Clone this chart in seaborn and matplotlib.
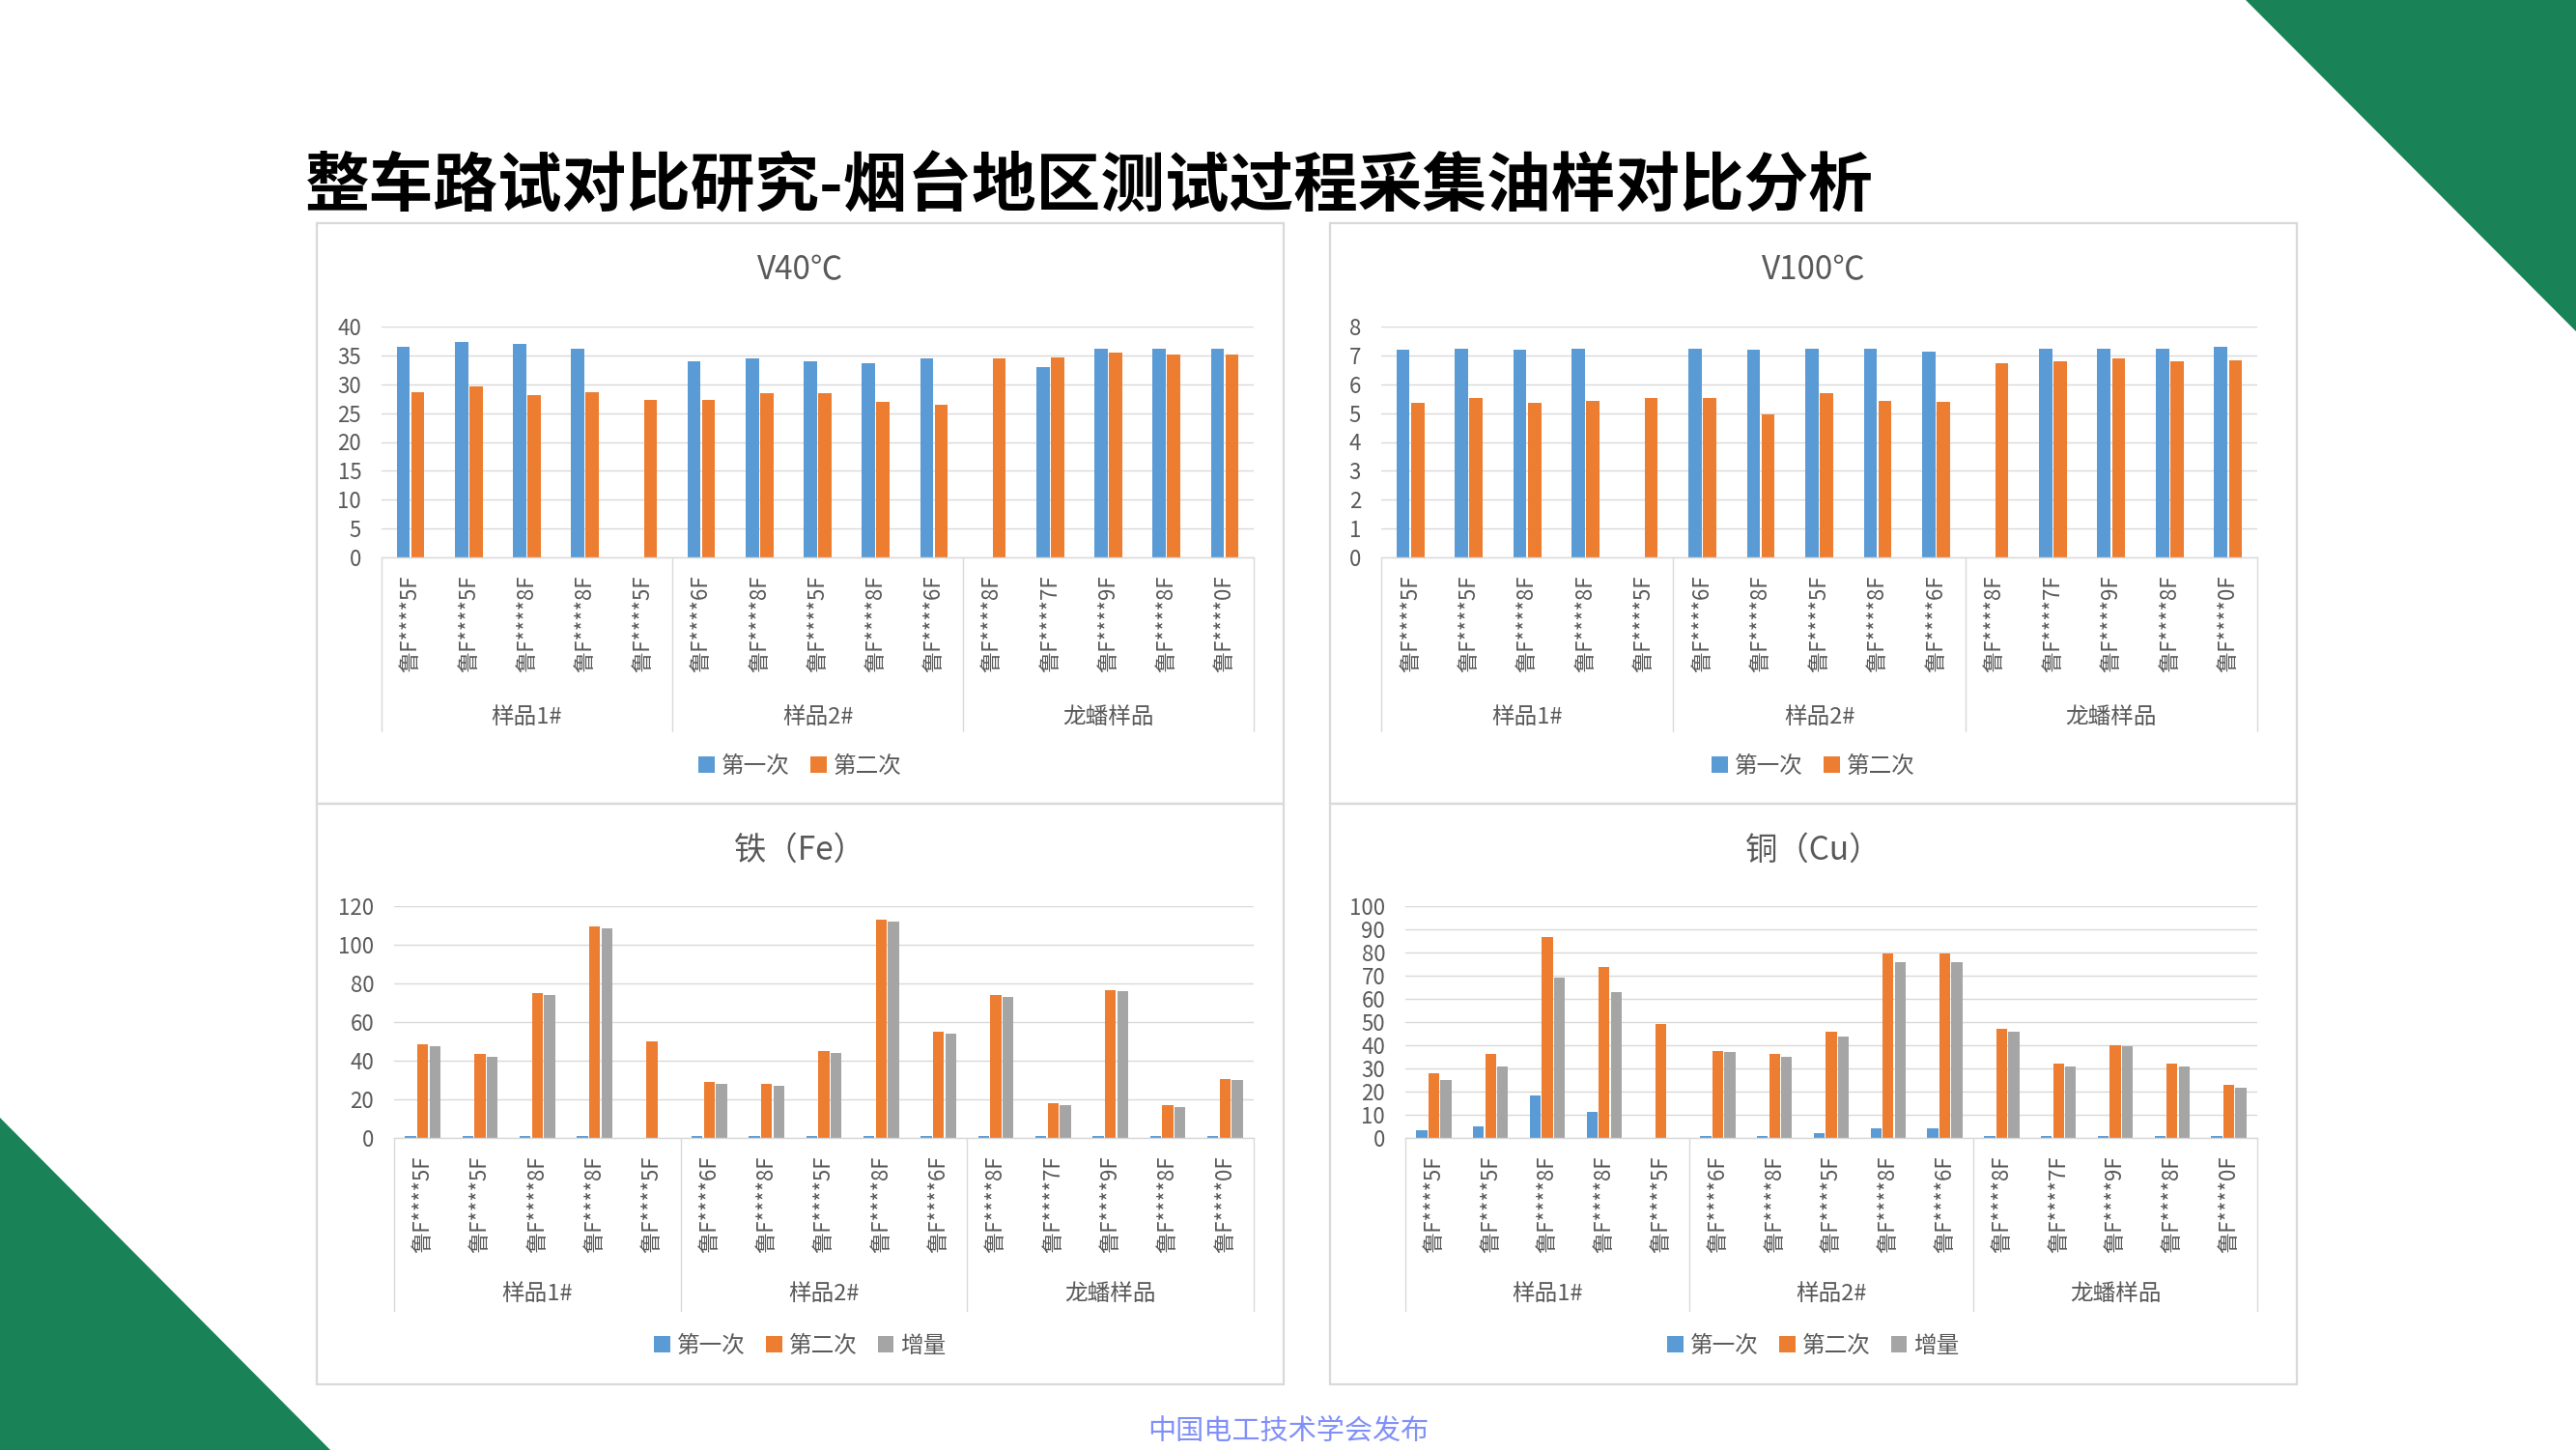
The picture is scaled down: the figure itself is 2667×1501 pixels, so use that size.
import numpy as np
import pandas as pd
import matplotlib
matplotlib.use("Agg")
import matplotlib.pyplot as plt
import seaborn as sns
from matplotlib.patches import Polygon, Rectangle
import matplotlib.transforms as mtransforms

sns.set_style("white")
plt.rcParams["font.family"] = ["Noto Sans CJK SC", "DejaVu Sans"]

# ---------------- data ----------------
plates = ["鲁F****5F", "鲁F****5F", "鲁F****8F", "鲁F****8F", "鲁F****5F",
          "鲁F****6F", "鲁F****8F", "鲁F****5F", "鲁F****8F", "鲁F****6F",
          "鲁F****8F", "鲁F****7F", "鲁F****9F", "鲁F****8F", "鲁F****0F"]
groups = ["样品1#"] * 5 + ["样品2#"] * 5 + ["龙蟠样品"] * 5
group_names = ["样品1#", "样品2#", "龙蟠样品"]
series2 = ["第一次", "第二次"]
series3 = ["第一次", "第二次", "增量"]
nan = np.nan

v40_first = [36.5, 37.4, 37.0, 36.1, nan, 33.9, 34.4, 33.9, 33.7, 34.4, nan, 32.9, 36.1, 36.1, 36.1]
v40_second = [28.7, 29.7, 28.2, 28.7, 27.3, 27.3, 28.5, 28.5, 27.0, 26.5, 34.5, 34.7, 35.4, 35.2, 35.2]

v100_first = [7.18, 7.24, 7.18, 7.22, nan, 7.22, 7.18, 7.24, 7.22, 7.14, nan, 7.22, 7.24, 7.24, 7.31]
v100_second = [5.36, 5.53, 5.36, 5.43, 5.53, 5.53, 4.96, 5.70, 5.43, 5.40, 6.74, 6.80, 6.88, 6.80, 6.84]

fe_first = [1.0, 1.0, 1.0, 1.0, nan, 1.0, 1.0, 1.0, 1.0, 1.0, 1.0, 1.0, 1.0, 1.0, 1.0]
fe_second = [48.3, 43.3, 74.8, 109.6, 49.8, 29.0, 28.1, 44.8, 113.1, 54.8, 73.8, 18.1, 76.3, 17.1, 30.6]
fe_increase = [47.3, 42.1, 73.8, 108.5, nan, 28.1, 27.1, 44.2, 112.1, 53.8, 72.9, 17.1, 76.0, 16.2, 30.2]

cu_first = [3.4, 5.0, 18.4, 11.2, nan, 0.8, 0.8, 2.1, 4.2, 4.2, 0.8, 0.8, 0.8, 0.8, 0.8]
cu_second = [28.0, 36.1, 86.7, 73.7, 49.0, 37.7, 36.1, 46.0, 79.6, 79.6, 47.0, 32.2, 40.2, 32.2, 23.1]
cu_increase = [25.2, 30.9, 69.2, 62.8, nan, 36.9, 35.1, 43.9, 75.8, 75.8, 46.0, 30.9, 39.4, 30.9, 21.8]

# ---------------- styling ----------------
W, H = 2667, 1501
BLUE, ORANGE, GRAY = "#5B9BD5", "#ED7D31", "#A5A5A5"
GREEN = "#198256"
LINE = "#D9D9D9"
TXT = "#595959"


def fx(x):
    return x / W


def fy(y):
    return 1 - y / H


fig = plt.figure(figsize=(W / 100, H / 100), dpi=100)
fig.patch.set_facecolor("white")

# decorative triangles
fig.add_artist(Polygon([(fx(2325), fy(0)), (fx(2667), fy(0)), (fx(2667), fy(343))],
                       closed=True, transform=fig.transFigure, facecolor=GREEN, edgecolor="none"))
fig.add_artist(Polygon([(fx(0), fy(1157)), (fx(342), fy(1501)), (fx(0), fy(1501))],
                       closed=True, transform=fig.transFigure, facecolor=GREEN, edgecolor="none"))

fig.text(fx(316), fy(194), "整车路试对比研究-烟台地区测试过程采集油样对比分析",
         fontsize=48, fontweight="bold", color="black", ha="left", va="center")
fig.text(fx(1334), fy(1482), "中国电工技术学会发布", fontsize=21, color="#8090F8",
         ha="center", va="center")


def draw(panel, plot, title, names, values, colors, ymax, ystep, width, title_y, legend_y, label_off, sep_len):
    px0, py0, px1, py1 = panel
    fig.add_artist(Rectangle((fx(px0), fy(py1)), fx(px1 - px0), (py1 - py0) / H,
                             transform=fig.transFigure, fill=False, edgecolor=LINE, linewidth=1.6))
    x0, y0, x1, y1 = plot
    ax = fig.add_axes([fx(x0), fy(y1), fx(x1 - x0), (y1 - y0) / H])
    rows = []
    for name, vals in zip(names, values):
        for i, v in enumerate(vals):
            if not np.isnan(v):
                rows.append({"idx": i, "series": name, "value": v})
    df = pd.DataFrame(rows)
    sns.barplot(data=df, x="idx", y="value", hue="series", hue_order=names,
                order=list(range(len(plates))), palette=colors, width=width, gap=0.1,
                saturation=1, errorbar=None, linewidth=0, ax=ax, legend=True)
    handles, labels = ax.get_legend_handles_labels()
    ax.get_legend().remove()
    ax.set_xlim(-0.5, len(plates) - 0.5)
    ax.set_ylim(0, ymax)
    ax.set_yticks(np.arange(0, ymax + ystep / 2, ystep))
    ax.set_xticks(range(len(plates)))
    ax.set_xticklabels(plates, rotation=90, fontsize=16, color=TXT)
    ax.tick_params(axis="x", length=0, pad=13)
    ax.tick_params(axis="y", length=0, pad=15, labelsize=16, labelcolor=TXT)
    ax.set_xlabel("")
    ax.set_ylabel("")
    ax.yaxis.grid(True, color=LINE, linewidth=1.0)
    ax.set_axisbelow(True)
    for s in ["left", "right", "top"]:
        ax.spines[s].set_visible(False)
    ax.spines["bottom"].set_color(LINE)
    ax.spines["bottom"].set_linewidth(1.0)
    ax.set_facecolor("none")

    axh = y1 - y0
    trans = mtransforms.blended_transform_factory(ax.transData, ax.transAxes)
    n = len(plates)
    bounds = [-0.5, 4.5, 9.5, n - 0.5]
    for b in bounds:
        ax.plot([b, b], [0, -sep_len / axh], transform=trans, color=LINE,
                linewidth=1.0, clip_on=False)
    for gi, g in enumerate(group_names):
        idxs = [i for i, gg in enumerate(groups) if gg == g]
        cx = (idxs[0] + idxs[-1]) / 2
        ax.text(cx, -label_off / axh, g, transform=trans, ha="center", va="center",
                fontsize=17, color=TXT)

    cxp = fx((px0 + px1) / 2)
    fig.text(cxp, fy(title_y), title, ha="center", va="center", fontsize=24, color=TXT)
    fig.legend(handles, labels, loc="center", bbox_to_anchor=(cxp, fy(legend_y)),
               bbox_transform=fig.transFigure, ncol=len(names), frameon=False,
               fontsize=17, labelcolor=TXT, handlelength=0.7, handleheight=0.7,
               handletextpad=0.3, columnspacing=0.9, borderaxespad=0)
    return ax


draw((328, 231, 1329, 832), (395, 338, 1298, 577), "V40℃", series2,
     [v40_first, v40_second], [BLUE, ORANGE], 40, 5, 0.5, 280, 793, 165, 180)
draw((1377, 231, 2378, 832), (1430, 338, 2337, 577), "V100℃", series2,
     [v100_first, v100_second], [BLUE, ORANGE], 8, 1, 0.5, 280, 793, 165, 180)
draw((328, 832, 1329, 1433), (408, 938, 1298, 1178), "铁（Fe）", series3,
     [fe_first, fe_second, fe_increase], [BLUE, ORANGE, GRAY], 120, 20, 0.64, 880, 1393, 162, 179)
draw((1377, 832, 2378, 1433), (1455, 938, 2337, 1178), "铜（Cu）", series3,
     [cu_first, cu_second, cu_increase], [BLUE, ORANGE, GRAY], 100, 10, 0.64, 880, 1393, 162, 179)

fig.savefig("out.png", dpi=100, facecolor="white")
